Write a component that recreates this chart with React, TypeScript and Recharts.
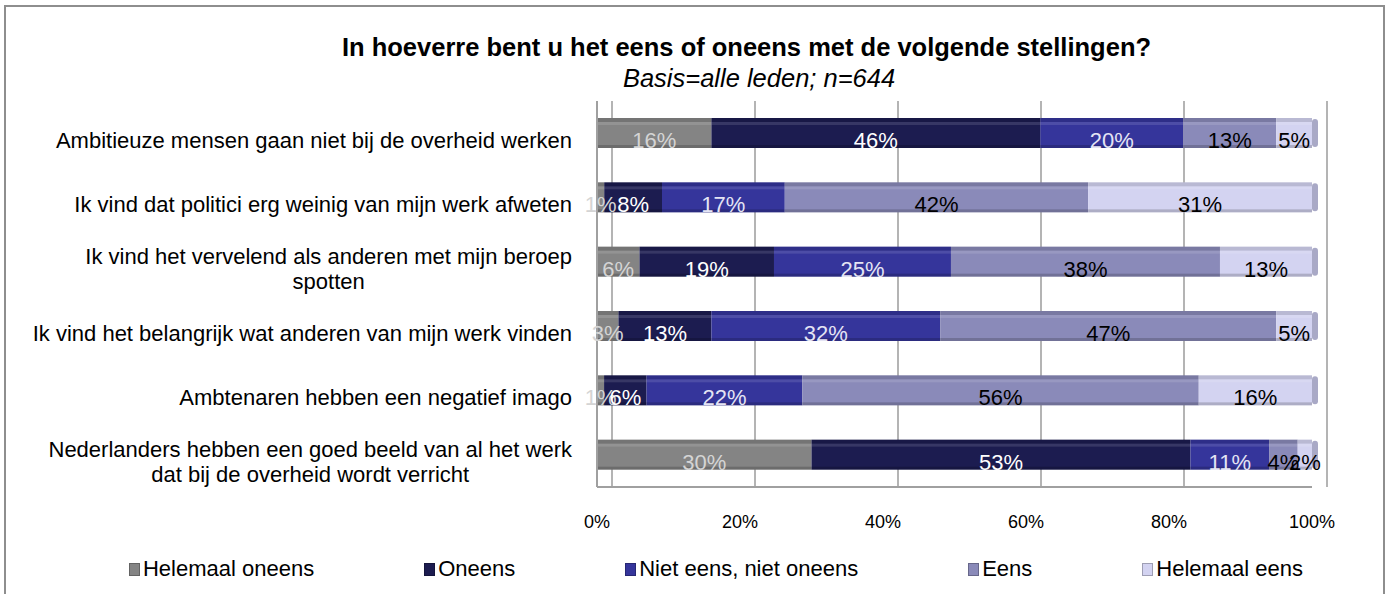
import React from "react";
import {
  BarChart,
  Bar,
  XAxis,
  YAxis,
  CartesianGrid,
  Legend,
  LabelList,
} from "recharts";

const categories = [
  "Ambitieuze mensen gaan niet bij de overheid werken",
  "Ik vind dat politici erg weinig van mijn werk afweten",
  "Ik vind het vervelend als anderen met mijn beroep spotten",
  "Ik vind het belangrijk wat anderen van mijn werk vinden",
  "Ambtenaren hebben een negatief imago",
  "Nederlanders hebben een goed beeld van al het werk dat bij de overheid wordt verricht",
];

const helemaalOneens = [16, 1, 6, 3, 1, 30];
const oneens = [46, 8, 19, 13, 6, 53];
const nietEens = [20, 17, 25, 32, 22, 11];
const eens = [13, 42, 38, 47, 56, 4];
const helemaalEens = [5, 31, 13, 5, 16, 2];

const xTicks = [0, 0.2, 0.4, 0.6, 0.8, 1];

const data = categories.map((name, i) => ({
  name,
  ho: helemaalOneens[i],
  on: oneens[i],
  ne: nietEens[i],
  ee: eens[i],
  he: helemaalEens[i],
}));

const series = [
  { key: "ho", name: "Helemaal oneens", color: "#848484", text: "#d4d4d4" },
  { key: "on", name: "Oneens", color: "#1c1c50", text: "#ffffff" },
  { key: "ne", name: "Niet eens, niet oneens", color: "#35359b", text: "#e4e4f4" },
  { key: "ee", name: "Eens", color: "#8a8ab9", text: "#000000" },
  { key: "he", name: "Helemaal eens", color: "#d3d3f1", text: "#000000" },
];

const FONT = "'Liberation Sans', Arial, sans-serif";

let ctx: CanvasRenderingContext2D | null = null;
function measure(s: string) {
  if (!ctx) ctx = document.createElement("canvas").getContext("2d");
  if (!ctx) return s.length * 11;
  ctx.font = `22px ${FONT}`;
  return ctx.measureText(s).width;
}

function wrap(label: string, maxW: number) {
  const words = label.split(" ");
  const lines: string[] = [];
  let cur = "";
  for (const w of words) {
    const test = cur ? cur + " " + w : w;
    if (cur && measure(test) > maxW) {
      lines.push(cur);
      cur = w;
    } else cur = test;
  }
  if (cur) lines.push(cur);
  return lines;
}

const CategoryTick = ({ x, y, payload }: any) => {
  const lines = wrap(payload.value, 540);
  const w = Math.max(...lines.map(measure));
  const cx = x - w / 2;
  const lh = 25;
  const y0 = y + 7 - ((lines.length - 1) * lh) / 2;
  return (
    <text textAnchor="middle" fontSize={22} fill="#000" fontFamily={FONT}>
      {lines.map((l, i) => (
        <tspan key={i} x={cx} y={y0 + i * lh} dy="0.35em">
          {l}
        </tspan>
      ))}
    </text>
  );
};

const makeShape = (last: boolean) => (props: any) => {
  const { x, y, width, height, fill } = props;
  if (!width || width <= 0) return <g />;
  return (
    <g>
      <rect x={x} y={y} width={width} height={height} fill={fill} />
      <rect x={x} y={y} width={width} height={4} fill="#000" opacity={0.12} />
      <rect x={x} y={y + 4} width={width} height={3} fill="#fff" opacity={0.12} />
      <rect x={x} y={y + height - 3} width={width} height={3} fill="#000" opacity={0.18} />
      {last && (
        <rect x={x + width} y={y + 1} width={6} height={height - 2} rx={3} fill="#a9a9c6" />
      )}
    </g>
  );
};

const makeLabel = (color: string) => (props: any) => {
  const { x, y, width, height, value } = props;
  return (
    <text
      x={x + width / 2}
      y={y + height / 2 + 15}
      textAnchor="middle"
      fontSize={22}
      fontFamily={FONT}
      fill={color}
    >
      {value}%
    </text>
  );
};

const renderLegend = () => (
  <div
    style={{
      height: 50,
      display: "flex",
      alignItems: "center",
      justifyContent: "center",
      gap: 110,
      paddingLeft: 120,
      fontFamily: FONT,
      fontSize: 22,
      color: "#000",
    }}
  >
    {series.map((s) => (
      <div key={s.key} style={{ display: "flex", alignItems: "center" }}>
        <span
          style={{
            display: "inline-block",
            width: 9,
            height: 11,
            background: s.color,
            border: "1px solid rgba(0,0,0,0.25)",
            marginRight: 3,
          }}
        />
        <span>{s.name}</span>
      </div>
    ))}
  </div>
);

export default function App() {
  return (
    <div
      style={{
        position: "absolute",
        left: 0,
        top: 0,
        width: 1387,
        height: 594,
        background: "#fff",
        fontFamily: FONT,
        overflow: "hidden",
      }}
    >
      <div
        style={{
          position: "absolute",
          left: 4,
          top: 5,
          width: 1377,
          height: 620,
          border: "2px solid #8e8e8e",
        }}
      />
      <div
        style={{
          position: "absolute",
          left: 0,
          top: 33,
          width: 1493,
          textAlign: "center",
          fontWeight: "bold",
          fontSize: 25.5,
        }}
      >
        In hoeverre bent u het eens of oneens met de volgende stellingen?
      </div>
      <div
        style={{
          position: "absolute",
          left: 0,
          top: 64,
          width: 1518,
          textAlign: "center",
          fontStyle: "italic",
          fontSize: 25.5,
        }}
      >
        Basis=alle leden; n=644
      </div>
      <BarChart
        width={1387}
        height={594}
        data={data}
        layout="vertical"
        stackOffset="expand"
        barSize={30}
        margin={{ top: 101, right: 75, bottom: 0, left: 0 }}
      >
        <CartesianGrid
          horizontal={false}
          stroke="#b4b4b4"
          strokeWidth={2}
          verticalCoordinatesGenerator={({ offset }: any) =>
            xTicks.map((t) => offset.left + offset.width * t + 15)
          }
        />
        <XAxis
          type="number"
          domain={[0, 1]}
          ticks={xTicks}
          tickFormatter={(t: number) => `${Math.round(t * 100)}%`}
          height={57}
          tickLine={false}
          tickMargin={22}
          axisLine={{ stroke: "#a0a0a0", strokeWidth: 2 }}
          tick={{ fontSize: 18, fill: "#000", fontFamily: FONT }}
        />
        <YAxis
          type="category"
          dataKey="name"
          width={597}
          tickLine={false}
          tickMargin={19}
          axisLine={{ stroke: "#a0a0a0", strokeWidth: 2 }}
          tick={<CategoryTick />}
          interval={0}
        />
        <Legend verticalAlign="bottom" height={50} content={renderLegend} />
        {series.map((s, i) => (
          <Bar
            key={s.key}
            dataKey={s.key}
            name={s.name}
            stackId="a"
            fill={s.color}
            isAnimationActive={false}
            shape={makeShape(i === series.length - 1)}
          >
            <LabelList dataKey={s.key} content={makeLabel(s.text)} />
          </Bar>
        ))}
      </BarChart>
    </div>
  );
}
